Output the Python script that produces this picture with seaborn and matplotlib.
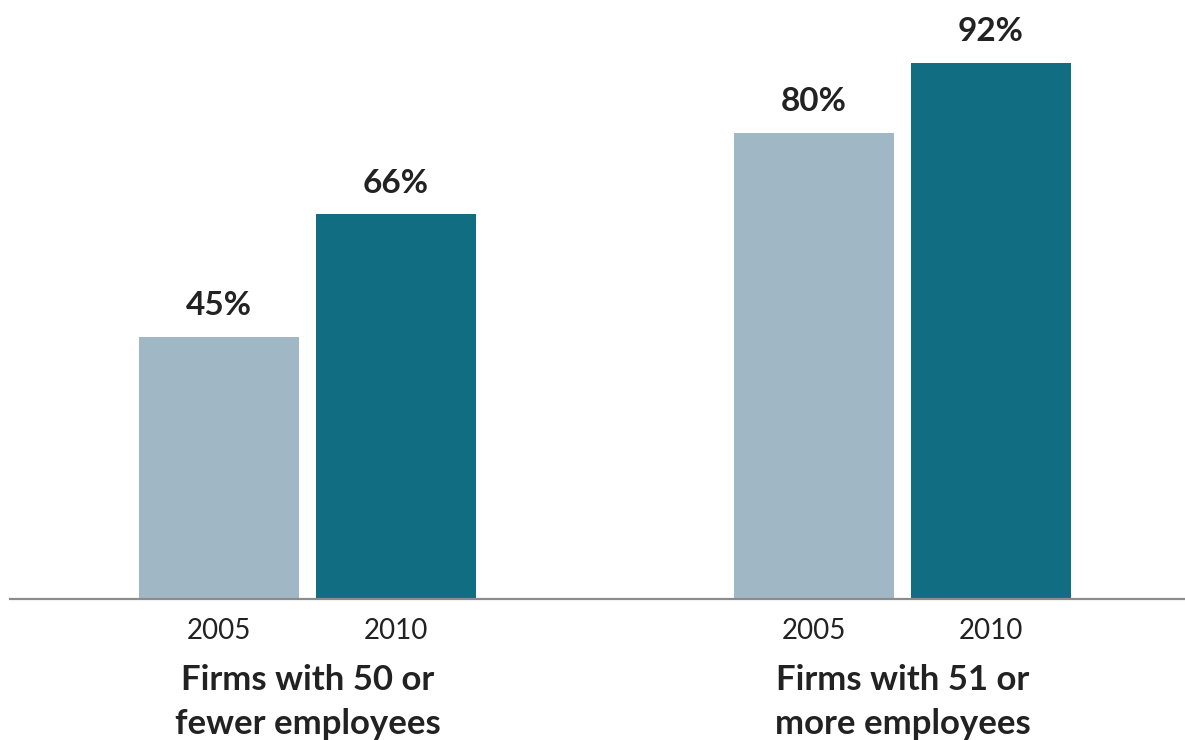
import matplotlib
matplotlib.use("Agg")
import matplotlib.pyplot as plt
import matplotlib.transforms as mtransforms
import seaborn as sns
import pandas as pd

# Share of firms, by firm size and survey year
groups = ["Firms with 50 or\nfewer employees", "Firms with 51 or\nmore employees"]
years = ["2005", "2010"]
share_2005 = [45, 80]
share_2010 = [66, 92]

colors = {"2005": "#A0B7C6", "2010": "#116E82"}

df = pd.DataFrame({
    "group": groups * 2,
    "year": [years[0]] * len(groups) + [years[1]] * len(groups),
    "share": share_2005 + share_2010,
})

sns.set_theme(style="white")
plt.rcParams["font.family"] = ["Lato", "DejaVu Sans"]

fig = plt.figure(figsize=(11.85, 7.40), dpi=100)
ax = fig.add_axes([10 / 1185, 141 / 740, 1175 / 1185, 583 / 740])

sns.barplot(data=df, x="group", y="share", hue="year", order=groups,
            hue_order=years, palette=colors, width=0.595, gap=0.096,
            saturation=1, legend=False, linewidth=0, ax=ax)

ax.set_xlim(-0.5, 1.475)
ax.set_ylim(0, 100)

# Value labels above each bar
for cont in ax.containers:
    ax.bar_label(cont, fmt="%d%%", padding=12, fontsize=24, fontweight="bold",
                 color="#222222")

# Year labels under each bar
centers, labels = [], []
for cont, yr in zip(ax.containers, years):
    for bar in cont:
        centers.append(bar.get_x() + bar.get_width() / 2)
        labels.append(yr)
ax.set_xticks(centers)
ax.set_xticklabels(labels, fontsize=20, color="#222222")
ax.tick_params(axis="x", length=0, pad=14)
ax.set_yticks([])
ax.set_xlabel("")
ax.set_ylabel("")

# Group labels below the year labels
trans = mtransforms.blended_transform_factory(ax.transData, ax.transAxes)
for i, g in enumerate(groups):
    ax.text(i, -0.111, g, transform=trans, ha="center", va="top",
            fontsize=25, fontweight="bold", color="#222222", linespacing=1.46)

for side in ["top", "left", "right"]:
    ax.spines[side].set_visible(False)
ax.spines["bottom"].set_color("#8C8C8C")
ax.spines["bottom"].set_linewidth(1.6)

fig.savefig("out.png", dpi=100, facecolor="white")
